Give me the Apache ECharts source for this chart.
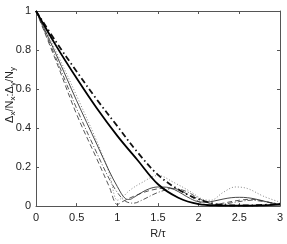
<!DOCTYPE html>
<html>
<head>
<meta charset="utf-8">
<script src="https://cdn.jsdelivr.net/npm/echarts@6/dist/echarts.min.js"></script>
<style>html,body{margin:0;padding:0;background:#fff}#c{width:287px;height:244px}</style>
</head>
<body>
<div id="c"></div>
<script>
var xTicks = ['0','0.5','1','1.5','2','2.5','3'];
var yTicks = ['0','0.2','0.4','0.6','0.8','1'];

var thickSolidX = [0,0.25,0.5,0.75,1,1.25,1.5,1.75,2,2.25,2.5,2.75,3];
var thickSolidY = [1,0.82,0.655,0.5,0.36,0.235,0.112,0.043,0.01,0.003,0.002,0.004,0.008];

var thickDashDotX = [0,0.25,0.5,0.75,1,1.25,1.5,1.75,2,2.25,2.5,2.75,3];
var thickDashDotY = [1,0.84,0.69,0.545,0.41,0.275,0.16,0.085,0.035,0.008,0.003,0.005,0.012];

var thinSolidX = [0,0.25,0.5,0.75,0.9,1.0,1.1,1.15,1.2,1.3,1.4,1.5,1.6,1.7,1.8,1.9,2.0,2.1,2.2,2.3,2.4,2.5,2.6,2.7,2.8,2.9,3.0];
var thinSolidY = [1,0.775,0.54,0.315,0.18,0.1,0.038,0.034,0.044,0.07,0.09,0.098,0.097,0.085,0.062,0.038,0.022,0.02,0.027,0.036,0.043,0.045,0.043,0.036,0.026,0.016,0.01];

var dashedX = [0,0.25,0.5,0.75,0.9,1.0,1.05,1.2,1.4,1.6,1.75,1.9,2.05,2.15,2.3,2.5,2.65,2.8,3];
var dashedY = [1,0.74,0.47,0.24,0.1,0.008,0.02,0.05,0.08,0.092,0.085,0.05,0.012,0.004,0.015,0.03,0.035,0.025,0.006];

var dashDotX = [0,0.25,0.5,0.75,0.9,1.0,1.1,1.2,1.3,1.5,1.7,1.85,2.0,2.15,2.25,2.45,2.65,2.85,3];
var dashDotY = [1,0.755,0.5,0.27,0.14,0.07,0.025,0.015,0.03,0.07,0.09,0.075,0.04,0.012,0.008,0.02,0.03,0.02,0.012];

var dottedX = [0,0.25,0.5,0.75,0.9,1.0,1.05,1.15,1.3,1.5,1.7,1.9,2.05,2.15,2.3,2.45,2.6,2.8,3];
var dottedY = [1,0.79,0.565,0.33,0.17,0.03,0.04,0.08,0.12,0.157,0.12,0.074,0.035,0.03,0.07,0.098,0.09,0.05,0.02];

function pts(xs, ys){ return xs.map(function(x,i){ return [x, ys[i]]; }); }

function ser(xs, ys, w, color, type){
  return { type:'line', data: pts(xs, ys), showSymbol:false, smooth:0.35, animation:false,
    lineStyle:{ width:w, color:color, type:type }, z: 3 };
}

var chart = echarts.init(document.getElementById('c'));
var lab = { fontFamily:'Liberation Sans, Arial, sans-serif', fontSize:11, color:'#222' };
var frame = { lineStyle:{ color:'#555', width:1 } };
chart.setOption({
  animation:false,
  grid:{ left:36, right:7, top:11, bottom:29 },
  xAxis:[
    { type:'value', min:0, max:3, interval:0.5, position:'bottom',
      axisLine:{ show:true, onZero:false, lineStyle:{color:'#555'} },
      axisTick:{ show:true, inside:true, length:3, lineStyle:{color:'#555'} },
      splitLine:{ show:false },
      axisLabel:Object.assign({ margin:6, formatter:function(v){ return xTicks[Math.round(v/0.5)]; } }, lab),
      name:'R/τ', nameLocation:'middle', nameGap:18, nameTextStyle:lab },
    { type:'value', min:0, max:3, interval:0.5, position:'top',
      axisLine:{ show:true, onZero:false, lineStyle:{color:'#555'} },
      axisTick:{ show:true, inside:true, length:3, lineStyle:{color:'#555'} },
      splitLine:{ show:false }, axisLabel:{ show:false } }
  ],
  yAxis:[
    { type:'value', min:0, max:1, interval:0.2, position:'left',
      axisLine:{ show:true, onZero:false, lineStyle:{color:'#555'} },
      axisTick:{ show:true, inside:true, length:3, lineStyle:{color:'#555'} },
      splitLine:{ show:false },
      axisLabel:Object.assign({ margin:5, formatter:function(v){ return yTicks[Math.round(v/0.2)]; } }, lab) },
    { type:'value', min:0, max:1, interval:0.2, position:'right',
      axisLine:{ show:true, onZero:false, lineStyle:{color:'#555'} },
      axisTick:{ show:true, inside:true, length:3, lineStyle:{color:'#555'} },
      splitLine:{ show:false }, axisLabel:{ show:false } }
  ],
  graphic:[{
    type:'text', x:10, y:95, rotation:Math.PI/2,
    style:{ text:'Δ{s|x}/N{s|x}:Δ{s|y}/N{s|y}', align:'center', verticalAlign:'middle',
      font:'11px Liberation Sans, Arial, sans-serif', fill:'#222',
      rich:{ s:{ fontSize:8, fontFamily:'Liberation Sans, Arial, sans-serif', fill:'#222', padding:[6,0,0,0] } } }
  }],
  series:[
    ser(dashedX, dashedY, 0.9, '#444', [5,3]),
    ser(dashDotX, dashDotY, 0.9, '#444', [5,2,1,2]),
    ser(dottedX, dottedY, 0.9, '#777', [1,2]),
    ser(thinSolidX, thinSolidY, 0.9, '#333', 'solid'),
    ser(thickDashDotX, thickDashDotY, 1.8, '#111', [6,3,1.5,3]),
    ser(thickSolidX, thickSolidY, 1.8, '#000', 'solid')
  ]
});
</script>
</body>
</html>
